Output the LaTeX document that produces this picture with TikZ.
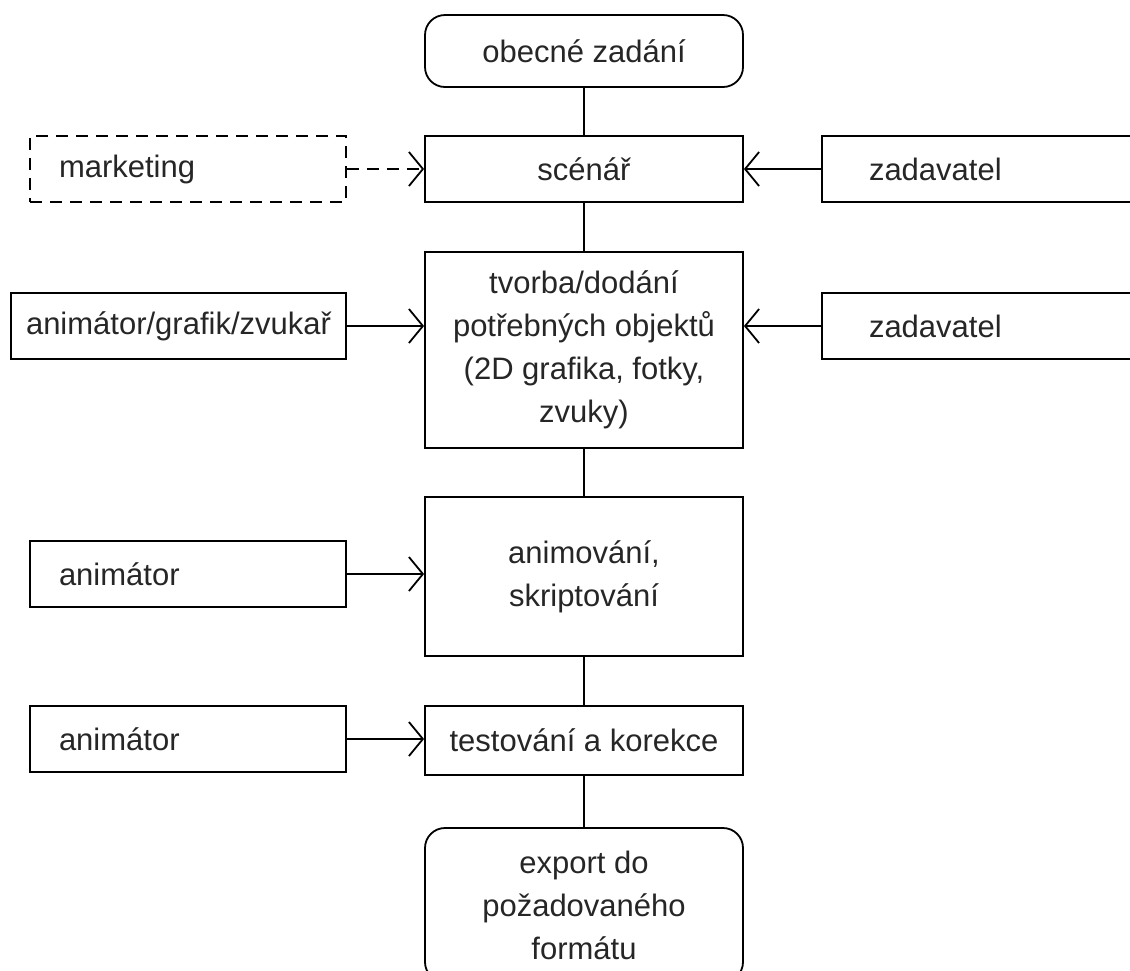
\documentclass[tikz,border=0pt]{standalone}
\usepackage{fontspec}
\setmainfont{Liberation Sans}
\usepackage{tikz}
\usepackage{xcolor}
\usetikzlibrary{arrows.meta,positioning}

\begin{document}
\begin{tikzpicture}[x=0.5pt,y=-0.5pt,
    box/.style={draw, line width=0.9pt, align=center, inner sep=0pt,
        font=\fontsize{15.5}{21.5}\selectfont, text=black!85},
    roundbox/.style={box, rounded corners=10pt},
    leftbox/.style={box, align=left, minimum width=158pt, minimum height=33pt},
    flow/.style={line width=0.9pt},
    inarrow/.style={line width=0.9pt, -{Straight Barb[length=7pt,width=17pt]}}]
    % Page
    \clip (0,0) rectangle (1130,970);

    % Main column
    \node[roundbox, minimum width=159pt, minimum height=36pt] (zadani) at (584,51) {obecné zadání};
    \node[box, minimum width=159pt, minimum height=33pt] (scenar) at (584,169) {scénář};
    \node[box, minimum width=159pt, minimum height=98pt] (tvorba) at (584,350)
        {tvorba/dodání\\potřebných objektů\\(2D grafika, fotky,\\zvuky)};
    \node[box, minimum width=159pt, minimum height=79.5pt] (animovani) at (584,576.5)
        {animování,\\skriptování};
    \node[box, minimum width=159pt, minimum height=34.5pt] (testovani) at (584,740.5)
        {testování a korekce};
    \node[roundbox, minimum width=159pt, minimum height=77pt] (export) at (584,905)
        {export do\\požadovaného\\formátu};

    % Roles on the left
    \node[leftbox, dashed, dash pattern=on 6pt off 4pt, text width=129pt] (marketing) at (188,169) {marketing};
    \node[box, minimum width=167.5pt, minimum height=33pt] (grafik) at (178.5,326) {animátor/grafik/zvukař};
    \node[leftbox, text width=129pt] (animatorA) at (188,574) {animátor};
    \node[leftbox, text width=129pt] (animatorB) at (188,739) {animátor};

    % Roles on the right
    \node[leftbox, text width=111pt] (zadavatelA) at (980,169) {zadavatel};
    \node[leftbox, text width=111pt] (zadavatelB) at (980,326) {zadavatel};

    % Sequence
    \draw[flow] (zadani) -- (scenar);
    \draw[flow] (scenar) -- (tvorba);
    \draw[flow] (tvorba) -- (animovani);
    \draw[flow] (animovani) -- (testovani);
    \draw[flow] (testovani) -- (export);

    % Inputs
    \draw[inarrow, dashed, dash pattern=on 6pt off 4pt] (marketing) -- (scenar);
    \draw[inarrow] (zadavatelA) -- (scenar);
    \draw[inarrow] (grafik) -- (tvorba.west |- grafik);
    \draw[inarrow] (zadavatelB) -- (tvorba.east |- zadavatelB);
    \draw[inarrow] (animatorA) -- (animovani.west |- animatorA);
    \draw[inarrow] (animatorB) -- (testovani.west |- animatorB);
\end{tikzpicture}
\end{document}
